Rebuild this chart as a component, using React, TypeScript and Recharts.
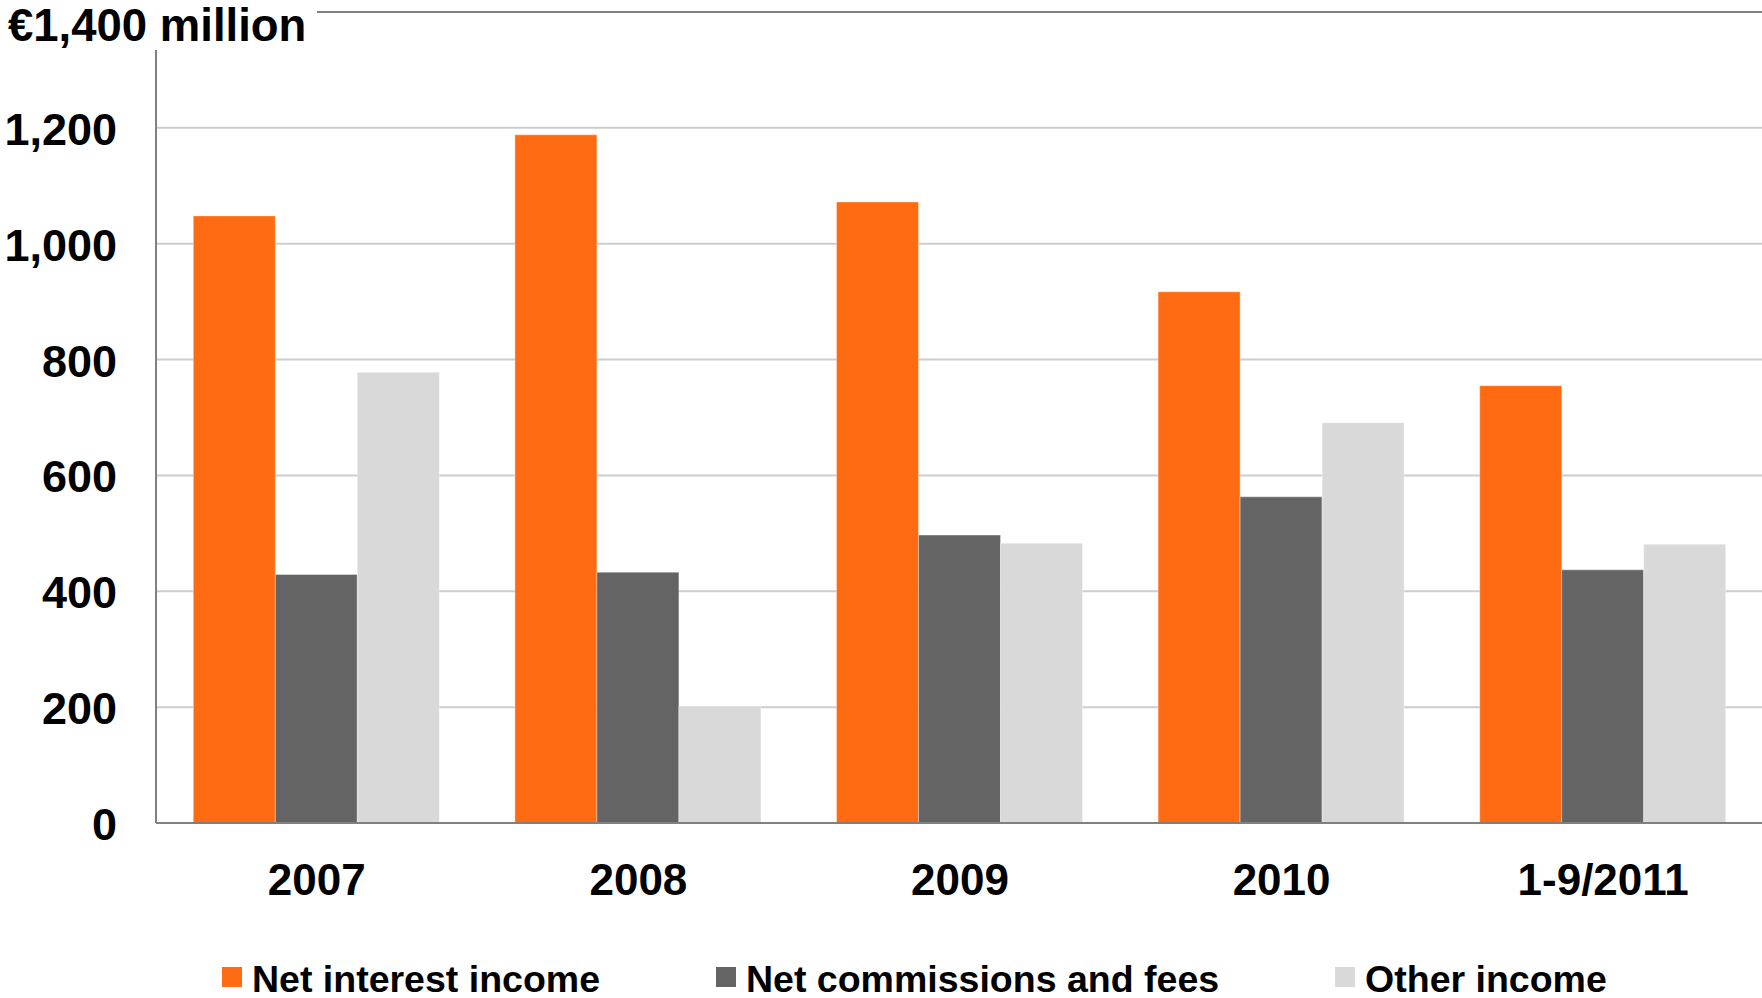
import React from 'react';
import { BarChart, Bar, XAxis, YAxis, CartesianGrid, Legend } from 'recharts';

const categories = ['2007', '2008', '2009', '2010', '1-9/2011'];
const netInterestIncome = [1048, 1188, 1072, 917, 755];
const netCommissionsAndFees = [429, 433, 497, 563, 437];
const otherIncome = [778, 202, 483, 691, 481];
const yTicks = [0, 200, 400, 600, 800, 1000, 1200, 1400];
const yTopLabel = '€1,400 million';
const seriesKeys = ['nii', 'ncf', 'oi'];
const seriesNames = ['Net interest income', 'Net commissions and fees', 'Other income'];
const seriesColors = ['#FF6B12', '#646464', '#D9D9D9'];

const data = categories.map((c, i) => ({
  category: c,
  nii: netInterestIncome[i],
  ncf: netCommissionsAndFees[i],
  oi: otherIncome[i],
}));

const FONT = '"Liberation Sans", Arial, Helvetica, sans-serif';

const YTick = (props: any) => {
  const { x, y, payload } = props;
  const v = payload.value;
  if (v === yTicks[yTicks.length - 1]) {
    return (
      <g>
        <rect x={0} y={0} width={317} height={y + 38} fill="#ffffff" />
        <text x={8} y={y + 29} fontSize={45.5} fontWeight="bold" fontFamily={FONT} fill="#000">
          {yTopLabel}
        </text>
      </g>
    );
  }
  return (
    <text x={x} y={y + 17} textAnchor="end" fontSize={45} fontWeight="bold" fontFamily={FONT} fill="#000">
      {Number(v).toLocaleString('en-US')}
    </text>
  );
};

const XTick = (props: any) => {
  const { x, y, payload } = props;
  return (
    <text x={x} y={y + 72} textAnchor="middle" fontSize={44} fontWeight="bold" fontFamily={FONT} fill="#000">
      {payload.value}
    </text>
  );
};

const GridLine = (p: any) => {
  const isTop = p.index === yTicks.length - 1;
  return (
    <line
      x1={p.x1}
      y1={p.y1}
      x2={p.x2}
      y2={p.y2}
      stroke={isTop ? '#808080' : '#CDCDCD'}
      strokeWidth={2}
    />
  );
};

const LegendContent = () => (
  <div
    style={{
      display: 'flex',
      fontFamily: FONT,
      fontWeight: 'bold',
      fontSize: 37.5,
      lineHeight: '34px',
      height: 34,
      color: '#000',
      whiteSpace: 'nowrap',
    }}
  >
    {seriesNames.map((n, i) => (
      <div key={n} style={{ display: 'flex', alignItems: 'flex-start', marginLeft: i ? 116 : 0 }}>
        <span
          style={{
            display: 'inline-block',
            width: 20,
            height: 20,
            background: seriesColors[i],
            marginTop: 5,
            marginRight: 10,
          }}
        />
        <span>{n}</span>
      </div>
    ))}
  </div>
);

export default function App() {
  return (
    <div style={{ position: 'absolute', left: 0, top: 0, width: 1762, height: 998, background: '#fff' }}>
      <BarChart
        width={1762}
        height={998}
        data={data}
        margin={{ top: 12, right: -2, bottom: 75, left: 0 }}
        barCategoryGap="11.6%"
        barGap={0}
      >
        <CartesianGrid vertical={false} horizontal={GridLine} />
        <XAxis
          dataKey="category"
          height={100}
          tickSize={0}
          tickMargin={0}
          tickLine={false}
          axisLine={{ stroke: '#808080', strokeWidth: 2 }}
          tick={XTick}
          interval={0}
        />
        <YAxis
          width={156}
          domain={[0, 1400]}
          ticks={yTicks}
          interval={0}
          tickSize={0}
          tickMargin={39}
          tickLine={false}
          axisLine={{ stroke: '#808080', strokeWidth: 2 }}
          tick={YTick}
        />
        <Legend
          layout="horizontal"
          verticalAlign="middle"
          align="center"
          content={LegendContent}
          wrapperStyle={{ left: 222, top: 962, width: 1500, height: 34 }}
        />
        {seriesKeys.map((k, i) => (
          <Bar
            key={k}
            dataKey={k}
            name={seriesNames[i]}
            fill={seriesColors[i]}
            stroke="#ffffff"
            strokeOpacity={0.35}
            strokeWidth={1}
            isAnimationActive={false}
          />
        ))}
      </BarChart>
    </div>
  );
}
